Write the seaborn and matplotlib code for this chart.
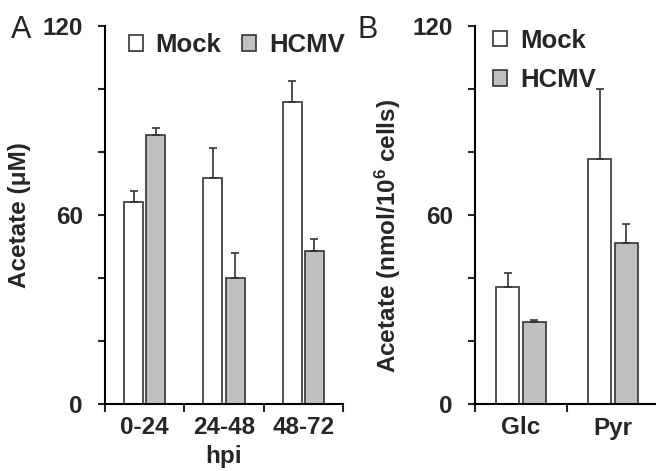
import pandas as pd
import seaborn as sns
import matplotlib.pyplot as plt
import matplotlib.patches as mpatches

# Panel A: acetate in medium by time window (uM)
hpi = ["0-24", "24-48", "48-72"]
mock_a = [64.1, 71.6, 96.0]
mock_a_err = [3.5, 9.8, 6.6]
hcmv_a = [85.4, 40.1, 48.7]
hcmv_a_err = [2.1, 7.7, 3.7]

# Panel B: acetate per cell by substrate
substrate = ["Glc", "Pyr"]
mock_b = [37.0, 77.7]
mock_b_err = [4.5, 22.3]
hcmv_b = [26.1, 51.0]
hcmv_b_err = [0.5, 6.0]

groups = ["Mock", "HCMV"]
colors = {"Mock": "white", "HCMV": "#c0c0c0"}
edge = "#333333"
fs = 17.5

sns.set_style("ticks")
plt.rcParams["font.family"] = ["Liberation Sans", "DejaVu Sans"]
plt.rcParams["font.weight"] = "bold"
plt.rcParams["mathtext.fontset"] = "custom"
plt.rcParams["mathtext.rm"] = "Liberation Sans"
plt.rcParams["mathtext.default"] = "regular"


def long_table(cats, m, me, h, he):
    rows = []
    for c, v, e in zip(cats, m, me):
        rows.append({"cat": c, "cond": "Mock", "val": v, "err": e})
    for c, v, e in zip(cats, h, he):
        rows.append({"cat": c, "cond": "HCMV", "val": v, "err": e})
    return pd.DataFrame(rows)


def draw(ax, df, cats, width, gap):
    sns.barplot(data=df, x="cat", y="val", hue="cond", order=cats,
                hue_order=groups, palette=colors, width=width, gap=gap,
                edgecolor=edge, linewidth=1.2, errorbar=None, legend=False,
                ax=ax)
    # upper-only error bars on top of each bar
    for cont, g in zip(ax.containers, groups):
        errs = df[df["cond"] == g].set_index("cat").loc[cats, "err"].values
        xs = [b.get_x() + b.get_width() / 2 for b in cont]
        ys = [b.get_height() for b in cont]
        ax.errorbar(xs, ys, yerr=[[0] * len(errs), errs], fmt="none",
                    ecolor=edge, elinewidth=1.2, capsize=3, capthick=1.2,
                    zorder=1)
    ax.set_ylim(0, 120)
    ax.set_yticks(range(0, 121, 20))
    ax.set_yticklabels(["0", "", "", "60", "", "", "120"])
    n = len(cats)
    ax.set_xticks([i - 0.5 for i in range(n + 1)])
    ax.set_xticklabels([])
    ax.set_xticks(range(n), minor=True)
    ax.set_xticklabels(cats, minor=True, fontsize=fs, fontweight="bold")
    ax.tick_params(axis="x", which="minor", length=0, pad=9)
    ax.tick_params(axis="x", which="major", length=6, width=1.5,
                   direction="out")
    ax.tick_params(axis="y", length=5, width=1.5, direction="out",
                   labelsize=fs, pad=11)
    for lab in ax.get_yticklabels():
        lab.set_fontweight("bold")
    for s in ["top", "right"]:
        ax.spines[s].set_visible(False)
    for s in ["left", "bottom"]:
        ax.spines[s].set_linewidth(1.5)
        ax.spines[s].set_color("black")


fig = plt.figure(figsize=(6.56, 4.71), dpi=100)
axA = fig.add_axes([105 / 656, 1 - 404 / 471, 238 / 656, 378 / 471])
axB = fig.add_axes([475 / 656, 1 - 404 / 471, 181 / 656, 378 / 471])

dfA = long_table(hpi, mock_a, mock_a_err, hcmv_a, hcmv_a_err)
draw(axA, dfA, hpi, 0.56, 0.14)
axA.set_xlim(-0.5, 2.5)
axA.set_xlabel("hpi", fontsize=fs, fontweight="bold", labelpad=4)
axA.set_ylabel("Acetate (μM)", fontsize=fs, fontweight="bold")
axA.yaxis.set_label_coords(-0.31, 0.5)

dfB = long_table(substrate, mock_b, mock_b_err, hcmv_b, hcmv_b_err)
draw(axB, dfB, substrate, 0.58, 0.15)
axB.set_xlim(-0.5, 1.467)
axB.set_xlabel("")
axB.set_ylabel("Acetate (nmol/10$^{6}$ cells)", fontsize=fs,
               fontweight="bold")
axB.yaxis.set_label_coords(-0.40, 0.444)

handles = [mpatches.Patch(facecolor=colors[g], edgecolor=edge, linewidth=1.2,
                          label=g) for g in groups]
axA.legend(handles=handles, ncol=2, frameon=False, loc="upper left",
           bbox_to_anchor=(0.045, 1.015), borderpad=0, handlelength=0.55,
           handleheight=0.55, handletextpad=0.5, columnspacing=0.8,
           prop={"size": 18.5, "weight": "bold"})
axB.legend(handles=handles, ncol=1, frameon=False, loc="upper left",
           bbox_to_anchor=(0.03, 1.027), borderpad=0, handlelength=0.55,
           handleheight=0.55, handletextpad=0.5, labelspacing=0.6,
           prop={"size": 18.5, "weight": "bold"})

fig.text(11 / 656, 1 - 30 / 471, "A", fontsize=22, fontweight="normal",
         va="center", ha="left")
fig.text(358 / 656, 1 - 30 / 471, "B", fontsize=22, fontweight="normal",
         va="center", ha="left")

fig.savefig("out.png", dpi=100)
